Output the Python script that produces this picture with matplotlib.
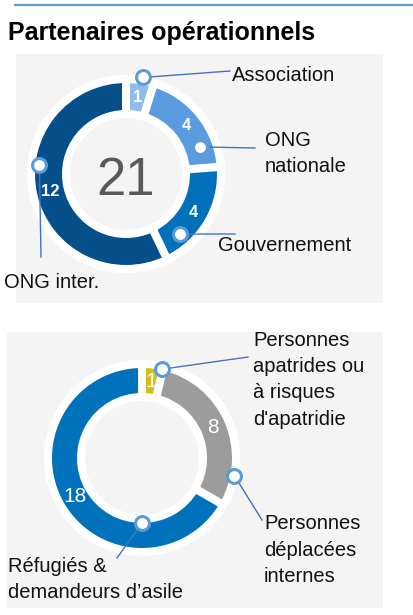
import matplotlib.pyplot as plt
from matplotlib.patches import Rectangle, Wedge
import numpy as np

plt.rcParams['font.family'] = ['Liberation Sans', 'DejaVu Sans']

# data
partner_labels = ['Association', 'ONG\nnationale', 'Gouvernement', 'ONG inter.']
partner_values = [1, 4, 4, 12]
partner_colors = ['#8FBCEC', '#5A9BE0', '#0070BA', '#05508A']

people_labels = ["Personnes\napatrides ou\nà risques\nd'apatridie",
                 'Personnes\ndéplacées\ninternes',
                 'Réfugiés &\ndemandeurs d’asile']
people_values = [1, 8, 18]
people_colors = ['#D6BE14', '#9C9C9C', '#0072BC']

W, H = 413, 615
fig = plt.figure(figsize=(W / 100, H / 100), dpi=100)
ax = fig.add_axes([0, 0, 1, 1])


def py(y):
    # pixel row (from top) -> data y
    return H - y


def donut(values, labels, colors, cx, cy, r_out, r_in, num_font, callouts):
    gap = 8
    ax.add_patch(Wedge((cx, py(cy)), r_out + 8, 0, 360, width=r_out + 8 - (r_in - 6),
                       facecolor='white', edgecolor='none', zorder=1))
    wedges, _ = ax.pie(values, colors=colors, startangle=90, counterclock=False,
                       radius=r_out + gap / 2, center=(cx, py(cy)),
                       wedgeprops=dict(width=r_out - r_in + gap, edgecolor='white',
                                       linewidth=gap * 0.72, zorder=2))
    r_mid = (r_out + r_in) / 2
    for w, v, lab, (frac, r_mk, end, txt) in zip(wedges, values, labels, callouts):
        a = np.deg2rad((w.theta1 + w.theta2) / 2)
        ax.text(cx + r_mid * np.cos(a), py(cy) + r_mid * np.sin(a), str(v),
                color='white', ha='center', va='center', zorder=4, **num_font)
        b = np.deg2rad(w.theta1 + frac * (w.theta2 - w.theta1))
        mx, my = cx + r_mk * np.cos(b), py(cy) + r_mk * np.sin(b)
        ax.plot([mx, end[0]], [my, py(end[1])], color='#4472C4', lw=1, zorder=3)
        ax.plot(mx, my, 'o', ms=10, mfc='white', mec='#5B9BD5', mew=2.2, zorder=5)
        # txt y is the baseline of the last line
        ax.text(txt[0], py(txt[1]), lab, fontsize=14.5, color='#111111',
                ha='left', va='baseline', linespacing=1.5, zorder=4)


# header
ax.plot([15, 413], [py(5), py(5)], color='#5B9BD5', lw=1.6)
ax.text(8, py(40), 'Partenaires opérationnels', fontsize=18, fontweight='bold',
        va='baseline')

# panels
ax.add_patch(Rectangle((16, py(303)), 367, 249, facecolor='#F4F4F4', edgecolor='none', zorder=0))
ax.add_patch(Rectangle((7, py(608)), 376, 276, facecolor='#F4F4F4', edgecolor='none', zorder=0))

donut(partner_values, partner_labels, partner_colors, 126, 174, 91, 64,
      dict(fontsize=12, fontweight='bold'),
      [(0.42, 98, (230, 71), (232, 81)),
       (0.23, 79, (255, 148), (265, 172)),
       (0.24, 81, (235, 234), (218, 251)),
       (0.41, 87, (41, 257), (4, 288))])
ax.text(126, py(195), str(sum(partner_values)), fontsize=38, color='#595959',
        ha='center', va='baseline', zorder=4)

donut(people_values, people_labels, people_colors, 142, 458, 90, 65,
      dict(fontsize=15),
      [(0.05, 91, (248, 357), (253, 425)),
       (0.18, 94, (262, 520), (264, 582)),
       (0.75, 65, (117, 558), (8, 598))])

ax.set_xlim(0, W)
ax.set_ylim(0, H)
ax.set_aspect('auto')
ax.axis('off')

fig.savefig('out.png', dpi=100, facecolor='white')
